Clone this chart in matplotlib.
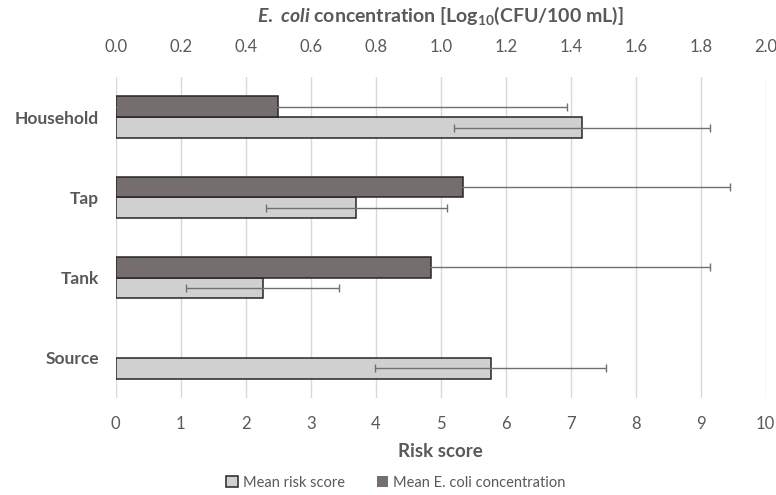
import numpy as np
import matplotlib.pyplot as plt

plt.rcParams['font.family'] = ['Lato', 'DejaVu Sans']
plt.rcParams['mathtext.fontset'] = 'custom'
plt.rcParams['mathtext.rm'] = 'Lato:bold'
plt.rcParams['mathtext.it'] = 'Lato:bold:italic'
plt.rcParams['mathtext.bf'] = 'Lato:bold'

# data, listed bottom -> top
sites = ['Source', 'Tank', 'Tap', 'Household']
risk_mean = [5.77, 2.26, 3.70, 7.17]
risk_err = [1.78, 1.18, 1.39, 1.97]
ecoli_mean = [0.0, 0.97, 1.07, 0.50]      # Log10(CFU/100 mL)
ecoli_err = [np.nan, 0.86, 0.82, 0.89]

TXT = '#595959'
LIGHT = '#d0d0d0'
DARK = '#766d6d'
EDGE = '#262626'
ERRC = '#707070'

fig = plt.figure(figsize=(7.76, 4.95), dpi=100)
ax = fig.add_axes([0.1491, 0.196, 0.8376, 0.6484])
ax2 = ax.twiny()

y = np.arange(len(sites))
h = 0.26

ax.barh(y - h / 2, risk_mean, height=h, color=LIGHT, edgecolor=EDGE,
        linewidth=1.1, zorder=3, label='Mean risk score')
ax.errorbar(risk_mean, y - h / 2, xerr=risk_err, fmt='none', ecolor=ERRC,
            elinewidth=1, capsize=3, capthick=1, zorder=4)

# no outline for empty bars (Source has no E. coli value)
lw_dark = [1.1 if v > 0 else 0 for v in ecoli_mean]
ax2.barh(y + h / 2, ecoli_mean, height=h, color=DARK, edgecolor=EDGE,
         linewidth=lw_dark, zorder=3, label='Mean E. coli concentration')
ok = ~np.isnan(ecoli_err)
ax2.errorbar(np.array(ecoli_mean)[ok], (y + h / 2)[ok],
             xerr=np.array(ecoli_err)[ok], fmt='none', ecolor=ERRC,
             elinewidth=1, capsize=3, capthick=1, zorder=4)

ax.set_xlim(0, 10)
ax2.set_xlim(0, 2)
ax.set_ylim(-0.5, 3.5)
ax.set_xticks(range(0, 11))
ax2.set_xticks(np.arange(0, 2.01, 0.2))
ax2.set_xticklabels([f'{v:.1f}' for v in np.arange(0, 2.01, 0.2)])
ax.set_yticks(y)
ax.set_yticklabels(sites, fontweight='bold', fontsize=12.5, color=TXT)

ax.grid(axis='x', color='#d9d9d9', linewidth=1, zorder=0)
ax.set_axisbelow(True)
for a in (ax, ax2):
    for s in a.spines.values():
        s.set_visible(False)
ax.tick_params(axis='x', length=0, labelsize=12, labelcolor=TXT, pad=13)
ax.tick_params(axis='y', length=0, pad=12)
ax2.tick_params(axis='x', length=0, labelsize=12, labelcolor=TXT, pad=16)

ax.set_xlabel('Risk score', fontsize=13.5, fontweight='bold', color=TXT, labelpad=8)
ax2.set_xlabel(r'$\mathit{E.\ coli}$ concentration [Log$_{10}$(CFU/100 mL)]',
               fontsize=14, fontweight='bold', color=TXT, labelpad=12)

h1, l1 = ax.get_legend_handles_labels()
h2, l2 = ax2.get_legend_handles_labels()
fig.legend(h1 + h2, l1 + l2, loc='lower center', bbox_to_anchor=(0.51, -0.016),
           ncol=2, frameon=False, fontsize=10.5, labelcolor=TXT,
           handlelength=0.8, handleheight=0.8, handletextpad=0.3, columnspacing=2.2)

fig.savefig('out.png', dpi=100)
